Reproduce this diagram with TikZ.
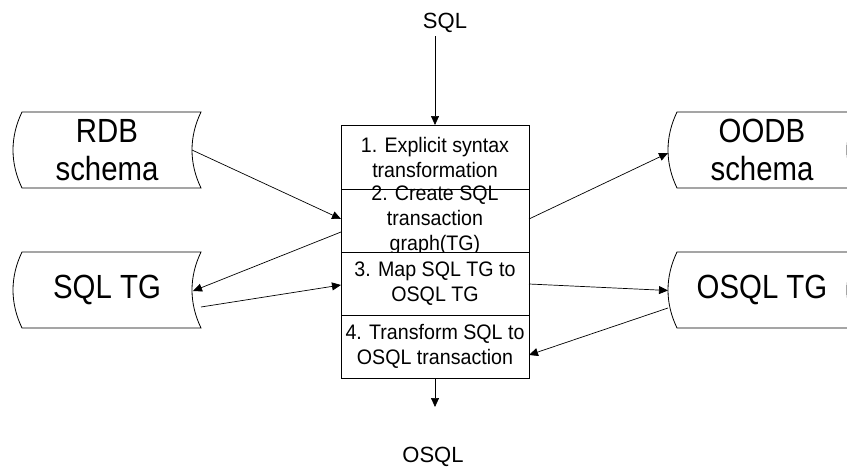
\documentclass[tikz,border=0pt]{standalone}
\usepackage{fontspec}
\setmainfont{Liberation Sans}
% taller, narrower faces for the store and step captions
\newfontfamily\drumfont[FakeStretch=0.877]{Liberation Sans}
\newfontfamily\stepfont[FakeStretch=0.935]{Liberation Sans}
\usetikzlibrary{arrows.meta}
% outline of a stored-data symbol: both sides curve to the left
\newcommand\drumoutline[1]{%
  \draw ([xshift=9pt]#1.north west) -- (#1.north east)
    .. controls +(-12,25) and +(-12,-25) .. (#1.south east)
    -- ([xshift=9pt]#1.south west)
    .. controls +(-12,-25) and +(-12,25) .. cycle;}
\begin{document}
\begin{tikzpicture}[x=1pt,y=-1pt,line width=0.8pt,
  stepbox/.style={draw, fill=white, minimum width=188pt, minimum height=63pt,
    inner sep=0pt, outer sep=0pt, align=center},
  steptext/.style={align=center, inner sep=0pt, font=\stepfont\fontsize{21}{25}\selectfont},
  drum/.style={minimum width=188pt, minimum height=76pt, inner sep=0pt,
    outer sep=0pt, align=center, font=\drumfont\fontsize{33.5}{38}\selectfont},
  lbl/.style={font=\fontsize{22}{26}\selectfont, inner sep=0pt},
  arr/.style={-{Triangle[length=9pt,width=8pt]}, line width=0.7pt},
]
\useasboundingbox (0,0) rectangle (847,471);

% stored data
\node[drum] (rdb)    at (107,150) {RDB\\schema};
\node[drum] (sqltg)  at (107,290) {SQL TG};
\node[drum] (oodb)   at (762,150) {OODB\\schema};
\node[drum] (osqltg) at (762,290) {OSQL TG};
\drumoutline{rdb}
\drumoutline{sqltg}
\drumoutline{oodb}
\drumoutline{osqltg}

% the four steps, stacked
\node[stepbox, minimum height=64pt, steptext] (b1) at (435,157) {1. Explicit syntax\\transformation};
\node[stepbox] (b2) at (435,220.5) {};
\node[steptext] (b2text) at (b2.center) {2. Create SQL\\transaction\\graph(TG)};
\node[stepbox, steptext] (b3) at (435,283.5) {3. Map SQL TG to\\OSQL TG};
\node[stepbox, steptext] (b4) at (435,346.5) {4. Transform SQL to\\OSQL transaction};

% input and output
\node[lbl] (sql)  at (445,23) {SQL};
\node[lbl] (osql) at (433,457) {OSQL};
\coordinate (sqlin)   at (435,36);
\coordinate (osqlout) at (435,407);
\draw[arr] (sqlin) -- (b1.north);
\draw[arr] (b4.south) -- (osqlout);

% data flow between the steps and the stores
\draw[arr] ([xshift=-9pt]rdb.east) -- ([yshift=1.5pt]b2.west);
\draw[arr] ([yshift=-11.5pt]b2.west) -- ([xshift=-8pt,yshift=-1pt]sqltg.east);
\draw[arr] ([yshift=-17pt]sqltg.east) -- ([yshift=-1.5pt]b3.west);
\draw[arr] ([yshift=1.5pt]b2.east) -- ([yshift=-3pt]oodb.west);
\draw[arr] ([yshift=-0.5pt]b3.east) -- ([yshift=-0.5pt]osqltg.west);
\draw[arr] ([yshift=-18pt]osqltg.west) -- ([yshift=-8.5pt]b4.east);
\end{tikzpicture}
\end{document}
